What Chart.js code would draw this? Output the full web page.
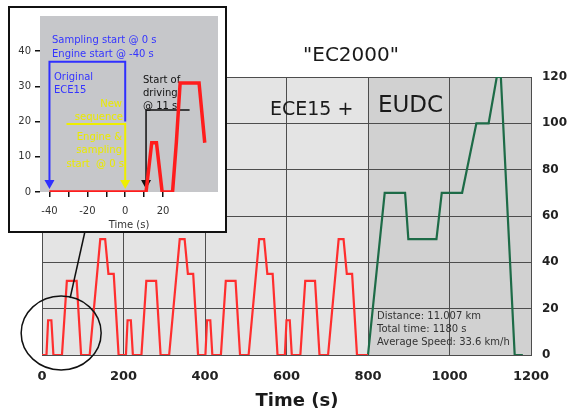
<!DOCTYPE html>
<html><head><meta charset="utf-8">
<script src="https://cdn.jsdelivr.net/npm/chart.js@4.4.1/dist/chart.umd.min.js"></script>
<style>
html,body{margin:0;padding:0;background:#fff;}
#wrap{position:relative;width:573px;height:414px;overflow:hidden;background:#fff;}
#main{position:absolute;left:0;top:0;}
#inset{position:absolute;left:8px;top:6px;}
</style></head><body>
<div id="wrap">
<canvas id="main" width="573" height="414"></canvas>
<canvas id="inset" width="219" height="227"></canvas>
</div>
<script>
// ---- Data: ECE15 urban part (4 repetitions), time in s, speed in km/h
const eceTime = [0,11,15,23,28,49,61,85,96,117,143,155,163,176,188,
  195,206,210,218,223,244,256,280,291,312,338,350,358,371,383,
  390,401,405,413,418,439,451,475,486,507,533,545,553,566,578,
  585,596,600,608,613,634,646,670,681,702,728,740,748,761,773,800];
const eceSpeed = [0,0,15,15,0,0,32,32,0,0,50,50,35,35,0,
  0,0,15,15,0,0,32,32,0,0,50,50,35,35,0,
  0,0,15,15,0,0,32,32,0,0,50,50,35,35,0,
  0,0,15,15,0,0,32,32,0,0,50,50,35,35,0,0];
// ---- Data: EUDC extra-urban part
const eudcTime = [800,841,891,899,968,981,1031,1066,1096,1116,1126,1160,1180];
const eudcSpeed = [0,70,70,50,50,70,70,100,100,120,120,0,0];
const xTicks = [0,200,400,600,800,1000,1200];
const yTicks = [0,20,40,60,80,100,120];
// ---- Inset (start of the cycle)
const insetTime = [-40,11,14,16.5,19.5,25,27,29,39,42];
const insetSpeed = [0,0,14,14,0,0,14,31,31,14];
const insetXTicks = [-40,-30,-20,-10,0,10,20];
const insetXLabels = [-40,-20,0,20];
const insetYTicks = [0,10,20,30,40];

const FONT = "'DejaVu Sans', Verdana, sans-serif";
const toXY = (xs, ys) => xs.map((x, i) => ({x: x, y: ys[i]}));
const setTicks = arr => s => { s.ticks = arr.map(v => ({value: v})); };

const mainPlugin = {
  id: 'mainDeco',
  beforeDraw(c) {
    const ctx = c.ctx, a = c.chartArea, x = c.scales.x;
    const split = x.getPixelForValue(eudcTime[0]);
    ctx.save();
    ctx.fillStyle = '#e4e4e4';
    ctx.fillRect(a.left, a.top, split - a.left, a.bottom - a.top);
    ctx.fillStyle = '#d1d1d1';
    ctx.fillRect(split, a.top, a.right - split, a.bottom - a.top);
    ctx.restore();
  },
  afterDraw(c) {
    const ctx = c.ctx, x = c.scales.x, y = c.scales.y;
    ctx.save();
    ctx.fillStyle = '#1a1a1a';
    ctx.textBaseline = 'alphabetic';
    ctx.font = '20px ' + FONT;
    ctx.textAlign = 'center';
    ctx.fillText('"EC2000"', 351, 61);
    ctx.textAlign = 'left';
    ctx.font = '19px ' + FONT;
    ctx.fillText('ECE15 +', 270, 115);
    ctx.font = '23px ' + FONT;
    ctx.fillText('EUDC', 378, 112);
    ctx.font = 'bold 18px ' + FONT;
    ctx.textAlign = 'center';
    ctx.fillText('Time (s)', 297, 406);
    ctx.font = '10px ' + FONT;
    ctx.textAlign = 'left';
    ctx.fillStyle = '#333';
    ctx.fillText('Distance: 11.007 km', 377, 319);
    ctx.fillText('Total time: 1180 s', 377, 332);
    ctx.fillText('Average Speed: 33.6 km/h', 377, 345);
    // circle around the start of the cycle + link to inset
    ctx.strokeStyle = '#111';
    ctx.lineWidth = 1.5;
    ctx.beginPath();
    ctx.ellipse(x.getPixelForValue(47), y.getPixelForValue(9.5), 40, 37, 0, 0, Math.PI * 2);
    ctx.stroke();
    ctx.beginPath();
    ctx.moveTo(x.getPixelForValue(69), y.getPixelForValue(24.6));
    ctx.lineTo(x.getPixelForValue(105), y.getPixelForValue(53));
    ctx.stroke();
    ctx.restore();
  }
};

new Chart(document.getElementById('main'), {
  type: 'line',
  data: {
    datasets: [
      {data: toXY(eceTime, eceSpeed), borderColor: '#ff2e2e', borderWidth: 2.2, pointRadius: 0, tension: 0},
      {data: toXY(eudcTime, eudcSpeed), borderColor: '#1d6b47', borderWidth: 2.2, pointRadius: 0, tension: 0}
    ]
  },
  options: {
    responsive: false, animation: false, devicePixelRatio: 1,
    layout: {padding: {left: 42, top: 77, right: 0, bottom: 0}},
    plugins: {legend: {display: false}, tooltip: {enabled: false}, title: {display: false}},
    scales: {
      x: {
        type: 'linear', min: 0, max: 1200, position: 'bottom',
        afterBuildTicks: setTicks(xTicks),
        afterFit: s => { s.height = 59; },
        grid: {color: '#4d4d4d', lineWidth: 1, drawTicks: false},
        border: {color: '#4d4d4d'},
        ticks: {font: {family: FONT, size: 13, weight: 'bold'}, color: '#222', padding: 14, maxRotation: 0,
                callback: v => String(v)}
      },
      y: {
        type: 'linear', min: 0, max: 120, position: 'right',
        afterBuildTicks: setTicks(yTicks),
        afterFit: s => { s.width = 42; },
        grid: {color: '#4d4d4d', lineWidth: 1, drawTicks: false},
        border: {color: '#4d4d4d'},
        ticks: {font: {family: FONT, size: 12, weight: 'bold'}, color: '#222', padding: 11,
                callback: v => String(v)}
      }
    }
  },
  plugins: [mainPlugin]
});

// ---- Inset chart
const insetPlugin = {
  id: 'insetDeco',
  beforeDraw(c) {
    const ctx = c.ctx, a = c.chartArea;
    ctx.save();
    ctx.fillStyle = '#fff';
    ctx.fillRect(0, 0, c.width, c.height);
    ctx.fillStyle = '#c6c7ca';
    ctx.fillRect(a.left, a.top, a.right - a.left, a.bottom - a.top);
    ctx.strokeStyle = '#111';
    ctx.lineWidth = 2;
    ctx.strokeRect(1, 1, c.width - 2, c.height - 2);
    ctx.restore();
  },
  beforeDatasetsDraw(c) {
    const ctx = c.ctx, x = c.scales.x, y = c.scales.y;
    const P = (t, v) => [x.getPixelForValue(t), y.getPixelForValue(v)];
    const path = (pts, color, w) => {
      ctx.strokeStyle = color; ctx.lineWidth = w;
      ctx.beginPath();
      pts.forEach((p, i) => { const q = P(p[0], p[1]); i ? ctx.lineTo(q[0], q[1]) : ctx.moveTo(q[0], q[1]); });
      ctx.stroke();
    };
    const arrow = (t, color) => {
      const q = P(t, 0);
      ctx.fillStyle = color;
      ctx.beginPath();
      ctx.moveTo(q[0], q[1] - 3);
      ctx.lineTo(q[0] - 5, q[1] - 12);
      ctx.lineTo(q[0] + 5, q[1] - 12);
      ctx.closePath();
      ctx.fill();
    };
    ctx.save();
    path([[-40, 3], [-40, 37], [0, 37], [0, 20]], '#2f2fff', 2);
    path([[-31, 19.3], [0, 19.3], [0, 3]], '#eeee00', 2);
    path([[34, 23.3], [11, 23.3], [11, 3]], '#111', 1.5);
    arrow(-40, '#2f2fff');
    arrow(0, '#eeee00');
    arrow(11, '#111');
    ctx.font = '10px ' + FONT;
    ctx.textBaseline = 'alphabetic';
    ctx.textAlign = 'left';
    ctx.fillStyle = '#3434ff';
    ctx.fillText('Sampling start @ 0 s', 44, 37);
    ctx.fillText('Engine start @ -40 s', 44, 51);
    ctx.fillText('Original', 46, 74);
    ctx.fillText('ECE15', 46, 87);
    ctx.fillStyle = '#eaea00';
    ctx.textAlign = 'right';
    ctx.fillText('New', 114, 101);
    ctx.fillText('sequence', 115, 114);
    ctx.fillText('Engine &', 114, 134);
    ctx.fillText('sampling', 114, 147);
    ctx.fillText('start  @ 0 s', 116, 161);
    ctx.fillStyle = '#111';
    ctx.textAlign = 'left';
    ctx.fillText('Start of', 135, 77);
    ctx.fillText('driving', 135, 90);
    ctx.fillText('@ 11 s', 135, 103);
    ctx.restore();
  }
};

new Chart(document.getElementById('inset'), {
  type: 'line',
  data: {datasets: [{data: toXY(insetTime, insetSpeed), borderColor: '#ff1c1c', borderWidth: 3.5, pointRadius: 0, tension: 0}]},
  options: {
    responsive: false, animation: false, devicePixelRatio: 1,
    layout: {padding: {left: 0, top: 10, right: 9, bottom: 0}},
    plugins: {legend: {display: false}, tooltip: {enabled: false}},
    scales: {
      x: {
        type: 'linear', min: -45, max: 49, position: 'bottom',
        afterBuildTicks: setTicks(insetXTicks),
        afterFit: s => { s.height = 41; },
        grid: {drawOnChartArea: false, drawTicks: true, tickLength: 5, color: '#111', lineWidth: 1.5},
        border: {display: false},
        ticks: {font: {family: FONT, size: 10}, color: '#333', padding: 8, maxRotation: 0, autoSkip: false,
                callback: v => insetXLabels.includes(v) ? String(v) : ''},
        title: {display: true, text: 'Time (s)', font: {family: FONT, size: 10}, color: '#333', padding: {top: 0, bottom: 2}}
      },
      y: {
        type: 'linear', min: 0, max: 50, position: 'left',
        afterBuildTicks: setTicks(insetYTicks),
        afterFit: s => { s.width = 32; },
        grid: {drawOnChartArea: false, drawTicks: true, tickLength: 5, color: '#111', lineWidth: 1.5},
        border: {display: false},
        ticks: {font: {family: FONT, size: 10}, color: '#333', padding: 4}
      }
    }
  },
  plugins: [insetPlugin]
});
</script>
</body></html>
